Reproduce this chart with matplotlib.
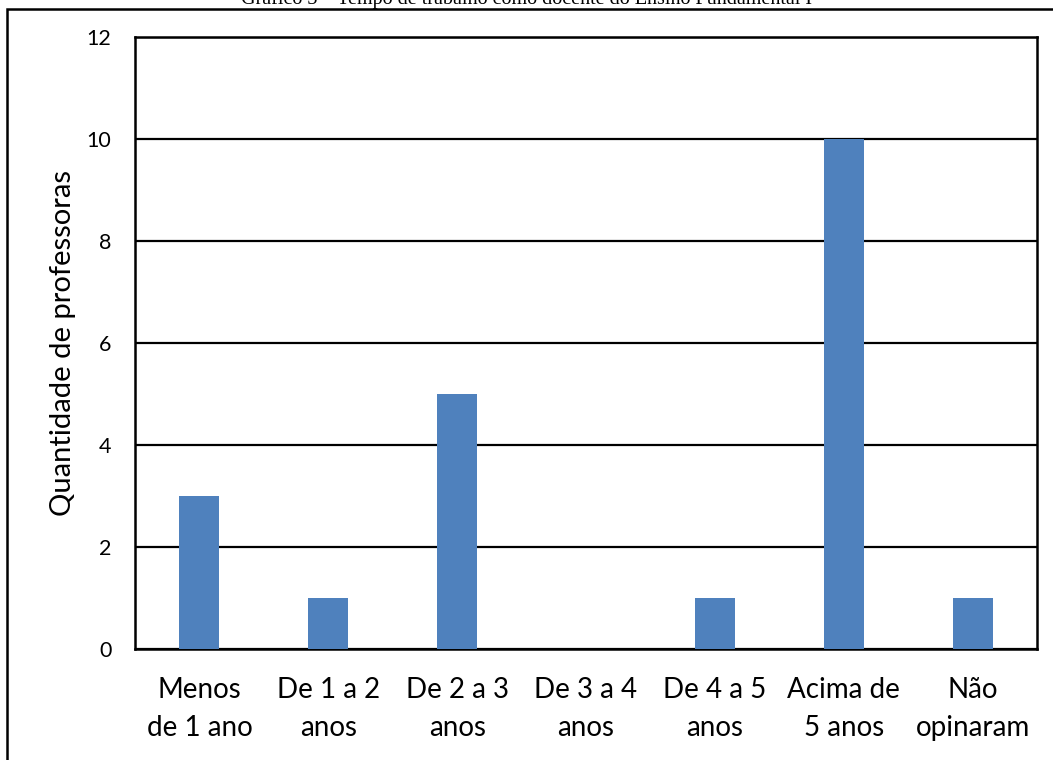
import matplotlib.pyplot as plt
from matplotlib.patches import Rectangle

plt.rcParams['font.family'] = ['Lato', 'DejaVu Sans']

categorias = ['Menos\nde 1 ano', 'De 1 a 2\nanos', 'De 2 a 3\nanos', 'De 3 a 4\nanos',
              'De 4 a 5\nanos', 'Acima de\n5 anos', 'Não\nopinaram']
professoras = [3, 1, 5, 0, 1, 10, 1]
yticks = [0, 2, 4, 6, 8, 10, 12]

titulo = 'Gráfico 3 – Tempo de trabalho como docente do Ensino Fundamental I'

fig = plt.figure(figsize=(10.53, 7.6), dpi=100)
ax = fig.add_axes([0.1282, 0.1461, 0.8566, 0.8052])

x = range(len(categorias))
ax.bar(x, professoras, width=0.31, color='#4F81BD', zorder=3)

ax.set_xlim(-0.5, len(categorias) - 0.5)
ax.set_ylim(0, 12)
ax.set_yticks(yticks)
ax.set_xticks(list(x))
ax.set_xticklabels(categorias, fontsize=20, linespacing=1.6)
ax.tick_params(axis='y', labelsize=15.5, length=0, pad=17)
ax.tick_params(axis='x', length=0, pad=20)
ax.yaxis.grid(True, color='black', linewidth=1.6, zorder=1)
for s in ax.spines.values():
    s.set_color('black')
    s.set_linewidth(1.8)

ax.set_ylabel('Quantidade de professoras', fontsize=21, labelpad=8)

# moldura externa e título
fig.patches.append(Rectangle((7 / 1053, -0.1), 1.1, 1.1 - 9 / 760, transform=fig.transFigure,
                             fill=False, edgecolor='black', linewidth=1.8))
fig.text(0.5, 1 - 4 / 760, titulo, ha='center', va='baseline', fontsize=14.5,
         family='Liberation Serif')

fig.savefig('out.png', dpi=100)
